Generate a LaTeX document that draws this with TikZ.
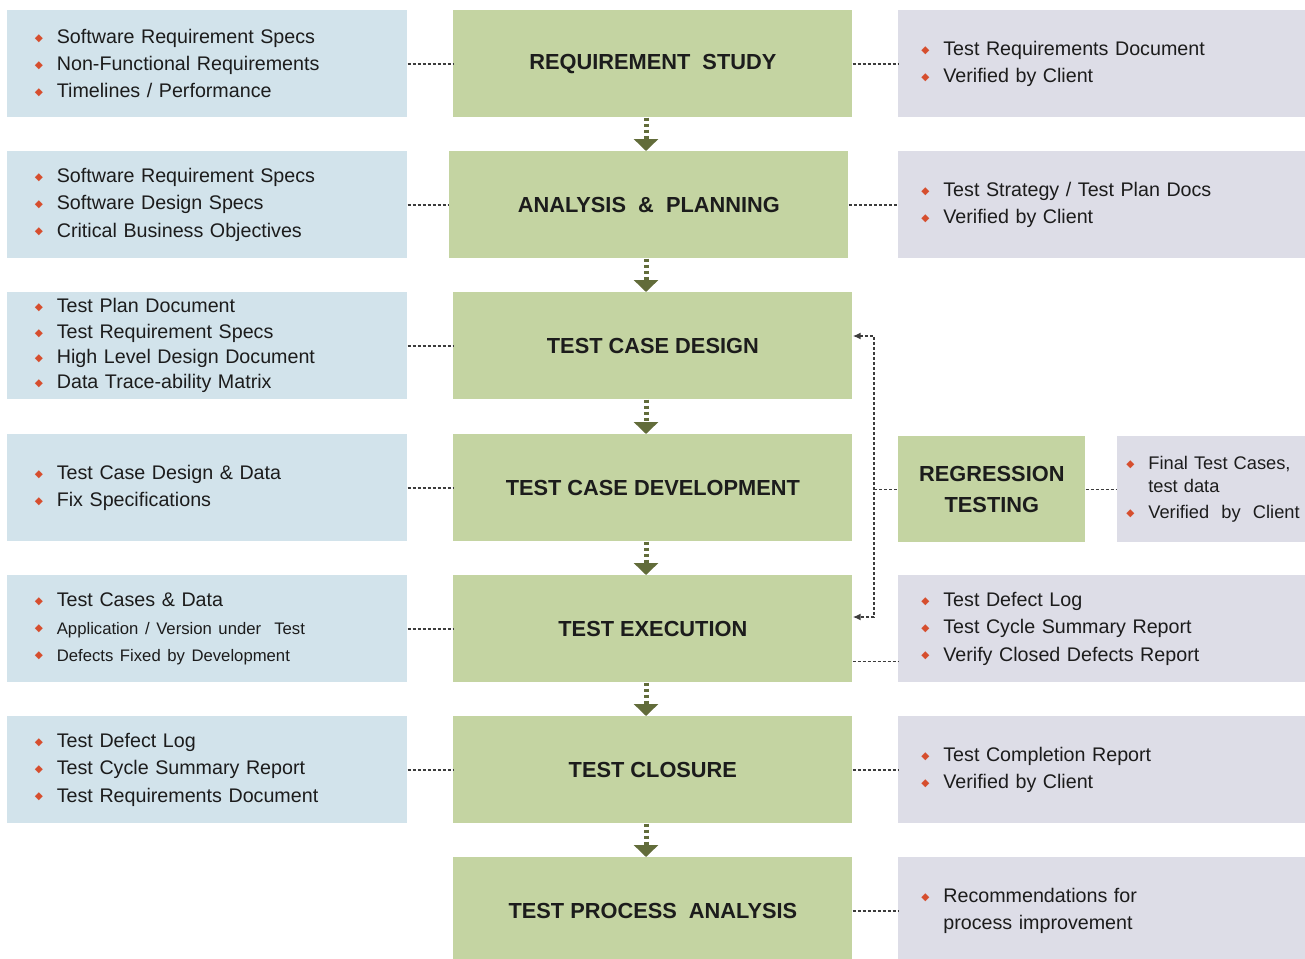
\documentclass[tikz,border=0pt]{standalone}
\usepackage{fontspec}
\setmainfont{Liberation Sans}
\newfontfamily\symfont{DejaVu Sans}
\usetikzlibrary{arrows.meta}

\definecolor{stagegreen}{RGB}{196,212,162}
\definecolor{inblue}{RGB}{210,227,235}
\definecolor{outgrey}{RGB}{221,221,231}
\definecolor{flowolive}{RGB}{98,108,58}
\definecolor{bulletred}{RGB}{214,78,46}
\definecolor{linkgrey}{RGB}{60,60,60}
\definecolor{inkdark}{RGB}{28,28,28}

\newcommand{\itemfont}{\fontsize{11.2}{15.4}\selectfont}
\newcommand{\smallitem}{\fontsize{9.5}{15.4}\selectfont}
\newcommand{\stagefont}{\fontsize{12.4}{17.6}\selectfont\bfseries}
\newcommand{\bull}{\makebox[4.4mm][l]{\raisebox{1.3pt}{\textcolor{bulletred}{\symfont\fontsize{6}{6}\selectfont ◆}}}}

\begin{document}
\begin{tikzpicture}[x=0.2mm,y=-0.2mm,
  stage/.style={anchor=north west,fill=stagegreen,text=inkdark,minimum width=79.8mm,minimum height=21.4mm,inner sep=0pt,align=center,font=\stagefont},
  inbox/.style={anchor=north west,fill=inblue,text=inkdark,minimum height=21.4mm,text width=69mm,inner xsep=5.5mm,inner ysep=0pt,align=left,font=\itemfont},
  outbox/.style={anchor=north west,fill=outgrey,text=inkdark,minimum height=21.4mm,text width=72.2mm,inner xsep=4.6mm,inner ysep=0pt,align=left,font=\itemfont},
  link/.style={draw=linkgrey,line width=0.3mm,dash pattern=on 0.6mm off 0.4mm},
  flow/.style={draw=flowolive,line width=1mm,dash pattern=on 0.7mm off 0.5mm,-{Triangle[width=4.8mm,length=2.4mm]}},
  back/.style={link,{Latex[length=1.6mm,width=1.4mm]}-{Latex[length=1.6mm,width=1.4mm]}}]
\useasboundingbox (0,0) rectangle (1305,958);

%stages in the middle
\node[stage] (rs) at (453,10) {REQUIREMENT\ \ STUDY};
\node[stage] (ap) at (449,151) {ANALYSIS \ \& \ PLANNING};
\node[stage] (tcd) at (453,292) {TEST CASE DESIGN};
\node[stage] (tcdev) at (453,434) {TEST CASE DEVELOPMENT};
\node[stage] (tex) at (453,575) {TEST EXECUTION};
\node[stage] (tcl) at (453,716) {TEST CLOSURE};
\node[stage] (tpa) at (453,857) {TEST PROCESS\ \ ANALYSIS};
\node[stage,minimum width=37.4mm,minimum height=21.2mm] (reg) at (898,436) {REGRESSION\\TESTING};

%inputs on the left
\node[inbox] (rsin) at (7,10) {\bull Software Requirement Specs\\ \bull Non-Functional Requirements\\ \bull Timelines / Performance};
\node[inbox] (apin) at (7,151) {\bull Software Requirement Specs\\ \bull Software Design Specs\\ \bull Critical Business Objectives};
\node[inbox,font=\fontsize{11.2}{14.4}\selectfont] (tcdin) at (7,292) {\bull Test Plan Document\\ \bull Test Requirement Specs\\ \bull High Level Design Document\\ \bull Data Trace-ability Matrix};
\node[inbox] (tcdevin) at (7,434) {\bull Test Case Design \& Data\\ \bull Fix Specifications};
\node[inbox] (texin) at (7,575) {\bull Test Cases \& Data\\ \bull{\smallitem Application / Version under\ \ Test}\\ \bull{\smallitem Defects Fixed by Development}};
\node[inbox] (tclin) at (7,716) {\bull Test Defect Log\\ \bull Test Cycle Summary Report\\ \bull Test Requirements Document};

%outputs on the right
\node[outbox] (rsout) at (898,10) {\bull Test Requirements Document\\ \bull Verified by Client\\[6pt]};
\node[outbox] (apout) at (898,151) {\bull Test Strategy / Test Plan Docs\\ \bull Verified by Client\\[4pt]};
\node[outbox] (texout) at (898,575) {\bull Test Defect Log\\ \bull Test Cycle Summary Report\\ \bull Verify Closed Defects Report};
\node[outbox] (tclout) at (898,716) {\bull Test Completion Report\\ \bull Verified by Client\\[4pt]};
\node[outbox] (tpaout) at (898,857) {\bull Recommendations for\\ \hspace*{4.4mm}process improvement};
\node[outbox,font=\fontsize{10.4}{13}\selectfont,text width=35.4mm,inner xsep=1.8mm,minimum height=21.2mm] (regout) at (1117,436) {\bull Final Test Cases,\\ \hspace*{4.4mm}test data\\[2pt] \bull Verified\ \ by\ \ Client};

%flow down the middle
\coordinate (flowx) at (646,0);
\draw[flow] (rs.south -| flowx) -- (ap.north -| flowx);
\draw[flow] (ap.south -| flowx) -- (tcd.north -| flowx);
\draw[flow] (tcd.south -| flowx) -- (tcdev.north -| flowx);
\draw[flow] (tcdev.south -| flowx) -- (tex.north -| flowx);
\draw[flow] (tex.south -| flowx) -- (tcl.north -| flowx);
\draw[flow] (tcl.south -| flowx) -- (tpa.north -| flowx);

%dashed links in and out
\draw[link] (rsin.east |- rs.west) -- (rs.west);
\draw[link] (apin.east |- ap.west) -- (ap.west);
\draw[link] (tcdin.east |- tcd.west) -- (tcd.west);
\draw[link] (tcdevin.east |- tcdev.west) -- (tcdev.west);
\draw[link] (texin.east |- tex.west) -- (tex.west);
\draw[link] (tclin.east |- tcl.west) -- (tcl.west);
\draw[link] (rs.east) -- (rsout.west |- rs.east);
\draw[link] (ap.east) -- (apout.west |- ap.east);
\draw[link] ([yshift=-6.5mm]tex.east) -- ([yshift=-6.5mm]tex.east -| texout.west);
\draw[link] (tcl.east) -- (tclout.west |- tcl.east);
\draw[link] (tpa.east) -- (tpaout.west |- tpa.east);

%regression loop
\coordinate (looptop) at (874,336);
\coordinate (loopbot) at (874,617);
\draw[back] (tcd.east |- looptop) -- (looptop) -- (loopbot) -- (tex.east |- loopbot);
\draw[link] (reg.west -| looptop) -- (reg.west);
\draw[link] (reg.east) -- (regout.west |- reg.east);

\end{tikzpicture}
\end{document}
